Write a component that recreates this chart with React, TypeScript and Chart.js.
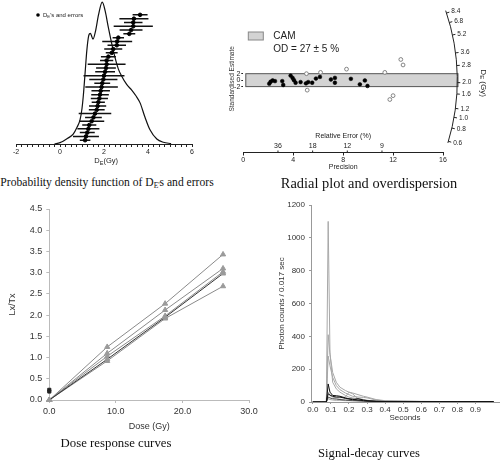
import React, { useEffect, useRef } from "react";
import { Chart, registerables } from "chart.js";
Chart.register(...registerables);

const SANS = "'Liberation Sans', Arial, sans-serif";
const SERIF = "'Liberation Serif', 'Times New Roman', serif";

// ---------------- Panel 1: probability density of DE's ----------------
const densityX = [-0.25, 0.0, 0.14, 0.35, 0.6, 0.78, 0.91, 1.0, 1.06, 1.14, 1.22, 1.3, 1.38, 1.5, 1.62, 1.75, 1.92, 2.05, 2.2, 2.42, 2.65, 2.8, 3.03, 3.26, 3.45, 3.64, 3.86, 4.09, 4.4, 4.7, 5.05];
const densityY = [0, 0.01, 0.02, 0.04, 0.07, 0.12, 0.17, 0.25, 0.34, 0.5, 0.66, 0.76, 0.78, 0.74, 0.8, 0.91, 1.0, 0.94, 0.82, 0.66, 0.53, 0.48, 0.42, 0.38, 0.34, 0.29, 0.19, 0.1, 0.035, 0.012, 0.003];
const deValues = [3.64, 3.36, 3.33, 3.33, 3.23, 3.15, 2.65, 2.6, 2.58, 2.42, 2.35, 2.2, 2.12, 2.12, 2.09, 2.05, 2.0, 1.97, 1.92, 1.89, 1.85, 1.82, 1.79, 1.74, 1.71, 1.67, 1.59, 1.52, 1.44, 1.33, 1.29, 1.24, 1.18, 1.14];
const deErrors = [0.34, 0.66, 0.42, 0.89, 0.52, 0.27, 0.26, 0.68, 0.42, 0.41, 0.27, 0.34, 0.3, 0.86, 0.45, 0.45, 0.93, 0.64, 0.36, 0.74, 0.42, 0.4, 0.39, 0.3, 0.39, 0.36, 0.74, 0.38, 0.57, 0.32, 0.5, 0.34, 0.59, 0.24];
const deAxisLabels = [-2, 0, 2, 4, 6];

// ---------------- Panel 2: radial plot ----------------
const precisionIn = [2.08, 2.19, 2.35, 2.54, 3.12, 3.2, 3.79, 3.95, 4.06, 4.19, 4.59, 5.02, 5.2, 5.52, 5.82, 6.14, 7.02, 7.34, 7.34, 8.62, 9.34, 9.74, 9.95];
const zIn = [-1.1, -0.5, -0.1, -0.3, -0.3, -1.5, 1.4, 0.7, 0, -0.8, -0.6, -1.0, -0.6, -0.8, 0.5, 1.0, 0.2, 0.7, -0.8, 0.4, -1.3, -0.1, -1.8];
const precisionOut = [5.06, 5.12, 6.19, 8.27, 11.34, 11.74, 12.0, 12.62, 12.8];
const zOut = [2.0, -3.1, 2.4, 3.4, 2.4, -6.0, -4.8, 6.4, 4.7];
const relErrorTicks = [36, 18, 12, 9];
const arcDeTicks = [0.6, 0.8, 1.0, 1.2, 1.6, 2.0, 2.8, 3.6, 5.2, 6.8, 8.4];
const camCentral = 2.1;
const odPercent = 27;
const odError = 5;

// ---------------- Panel 3: dose response ----------------
const doses = [0, 8.7, 17.4, 26.1];
const lxtxA = [0, 1.25, 2.27, 3.43];
const lxtxB = [0, 1.1, 2.12, 3.1];
const lxtxC = [0, 1.03, 1.98, 3.02];
const lxtxD = [0, 0.96, 1.95, 2.98];
const lxtxE = [0, 0.92, 1.92, 2.68];
const naturalLxTx = [0.24, 0.2];

// ---------------- Panel 4: signal decay ----------------
const decayTimes = [0, 0.05, 0.075, 0.085, 0.095, 0.11, 0.13, 0.15, 0.18, 0.2, 0.22, 0.25, 0.28, 0.3, 0.35, 0.4, 0.5, 0.6, 0.7, 0.8, 0.9, 1.0];
const decayA = [0, 0, 0, 1100, 300, 120, 80, 60, 40, 30, 25, 20, 15, 10, 6, 5, 4, 3, 3, 2, 2, 2];
const decayB = [0, 0, 2, 410, 290, 180, 120, 90, 70, 60, 55, 45, 35, 30, 15, 8, 5, 4, 3, 3, 2, 2];
const decayC = [0, 0, 2, 280, 220, 150, 100, 75, 55, 45, 35, 30, 28, 25, 12, 6, 4, 3, 3, 2, 2, 2];
const decayD = [0, 0, 0, 60, 40, 30, 25, 25, 30, 60, 50, 20, 15, 10, 6, 5, 4, 3, 3, 2, 2, 2];
const decayE = [0, 0, 0, 110, 60, 40, 38, 35, 25, 20, 18, 12, 8, 6, 4, 3, 3, 2, 2, 2, 2, 2];
const decayF = [0, 0, 0, 50, 42, 35, 30, 30, 22, 18, 14, 20, 12, 8, 4, 3, 2, 2, 2, 2, 2, 2];
const decayG = [0, 0, 0, 30, 25, 20, 18, 15, 12, 10, 10, 8, 6, 5, 3, 2, 2, 2, 2, 2, 2, 2];
const decayH = [0, 0, 0, 20, 15, 12, 10, 10, 8, 8, 6, 5, 4, 4, 3, 2, 2, 2, 2, 2, 2, 2];
const decayTicks = [0, 0.1, 0.2, 0.3, 0.4, 0.5, 0.6, 0.7, 0.8, 0.9];

type Part = [string, number, number];
function drawParts(ctx: CanvasRenderingContext2D, x: number, y: number, parts: Part[], align: "left" | "center", color = "#222") {
  let w = 0;
  parts.forEach(([t, s]) => { ctx.font = `${s}px ${SANS}`; w += ctx.measureText(t).width; });
  let cx = align === "center" ? x - w / 2 : x;
  ctx.textAlign = "left";
  ctx.textBaseline = "middle";
  ctx.fillStyle = color;
  parts.forEach(([t, s, dy]) => { ctx.font = `${s}px ${SANS}`; ctx.fillText(t, cx, y + dy); cx += ctx.measureText(t).width; });
}

function densityConfig(): any {
  const n = deValues.length;
  const segs: any[] = [];
  const pts: any[] = [];
  deValues.forEach((v, i) => {
    const r = n - i;
    segs.push({ x: v - deErrors[i], y: r }, { x: v + deErrors[i], y: r }, { x: null, y: null });
    pts.push({ x: v, y: r });
  });
  return {
    type: "line",
    data: {
      datasets: [
        { data: pts, type: "scatter", yAxisID: "yr", pointRadius: 1.8, backgroundColor: "#000", borderColor: "#000", clip: false },
        { data: segs, yAxisID: "yr", borderColor: "#111", borderWidth: 1.5, pointRadius: 0, spanGaps: false, clip: false },
        { data: densityX.map((x, i) => ({ x, y: densityY[i] })), yAxisID: "y", borderColor: "#111", borderWidth: 1.2, pointRadius: 0, cubicInterpolationMode: "monotone", clip: false },
      ],
    },
    options: {
      responsive: false, animation: false, events: [],
      layout: { padding: { left: 16, right: 58, top: 0, bottom: 0 } },
      plugins: { legend: { display: false }, tooltip: { enabled: false } },
      scales: {
        x: {
          type: "linear", min: -2, max: 6,
          ticks: { stepSize: 0.25, autoSkip: false, maxRotation: 0, padding: 1, color: "#222", font: { size: 7, family: SANS },
            callback: (v: number) => (deAxisLabels.includes(v) ? String(v) : "") },
          grid: { drawOnChartArea: false, tickLength: 3, tickColor: "#222" },
          border: { color: "#222" },
          afterFit: (s: any) => { s.height = 28; },
        },
        y: { type: "linear", min: 0, max: 0.98, display: false },
        yr: { type: "linear", min: 0, max: 36.6, display: false },
      },
    },
    plugins: [{
      id: "p1text",
      afterDraw(chart: any) {
        const ctx = chart.ctx;
        ctx.save();
        ctx.fillStyle = "#000";
        ctx.beginPath(); ctx.arc(38, 15, 1.8, 0, Math.PI * 2); ctx.fill();
        drawParts(ctx, 43, 15, [["D", 6, 0], ["E", 4.2, 1.5], ["'s and errors", 6, 0]], "left");
        drawParts(ctx, chart.scales.x.getPixelForValue(2.1), 161, [["D", 7.5, 0], ["E", 5.5, 2], ["(Gy)", 7.5, 0]], "center");
        ctx.restore();
      },
    }],
  };
}

function radialConfig(): any {
  return {
    type: "scatter",
    data: {
      datasets: [
        { data: precisionIn.map((x, i) => ({ x, y: zIn[i] })), pointRadius: 1.9, backgroundColor: "#000", borderColor: "#000", borderWidth: 0.5 },
        { data: precisionOut.map((x, i) => ({ x, y: zOut[i] })), pointRadius: 1.9, backgroundColor: "#fff", borderColor: "#777", borderWidth: 0.9 },
      ],
    },
    options: {
      responsive: false, animation: false, events: [],
      layout: { padding: { left: 0, right: 57, top: 0, bottom: 0 } },
      plugins: { legend: { display: false }, tooltip: { enabled: false } },
      scales: {
        x: {
          type: "linear", min: 0, max: 16,
          ticks: { stepSize: 4, maxRotation: 0, padding: 0, color: "#222", font: { size: 7, family: SANS } },
          grid: { drawOnChartArea: false, tickLength: 3, tickColor: "#222" },
          border: { color: "#222" },
          title: { display: true, text: "Precision", color: "#222", font: { size: 7, family: SANS }, padding: { top: 0, bottom: 4 } },
          afterFit: (s: any) => { s.height = 22.5; },
        },
        y: {
          type: "linear", min: -22.4, max: 23.2,
          afterBuildTicks: (axis: any) => { axis.ticks = [2, 0, -2].map((v) => ({ value: v })); },
          ticks: { padding: 1, color: "#222", font: { size: 7, family: SANS } },
          grid: { drawOnChartArea: false, tickLength: 2, tickColor: "#222" },
          border: { display: false },
          title: { display: true, text: "Standardised Estimate", color: "#333", font: { size: 6.5, family: SANS }, padding: { top: 3, bottom: 0 } },
          afterFit: (s: any) => { s.width = 18.3; },
        },
      },
    },
    plugins: [{
      id: "band",
      beforeDatasetsDraw(chart: any) {
        const { ctx, scales: { x: xs, y: ys } } = chart;
        const l = xs.getPixelForValue(0.2), r = xs.getPixelForValue(17.2);
        const t = ys.getPixelForValue(2), b = ys.getPixelForValue(-2);
        ctx.save();
        ctx.fillStyle = "#d3d3d3";
        ctx.fillRect(l, t, r - l, b - t);
        ctx.strokeStyle = "#555"; ctx.lineWidth = 1;
        ctx.strokeRect(l, t, r - l, b - t);
        const ca = chart.chartArea;
        ctx.fillStyle = "#d3d3d3"; ctx.fillRect(ca.left + 5, 32, 15, 8);
        ctx.strokeStyle = "#888"; ctx.strokeRect(ca.left + 5, 32, 15, 8);
        ctx.fillStyle = "#222"; ctx.font = `10px ${SANS}`; ctx.textAlign = "left"; ctx.textBaseline = "middle";
        ctx.fillText("CAM", ca.left + 30, 36);
        ctx.fillText(`OD = ${odPercent} ± ${odError} %`, ca.left + 30, 49);
        ctx.restore();
      },
      afterDraw(chart: any) {
        const { ctx, scales: { x: xs, y: ys }, chartArea: ca } = chart;
        ctx.save();
        ctx.strokeStyle = "#222"; ctx.fillStyle = "#222"; ctx.lineWidth = 1;
        const ay = ca.bottom;
        ctx.font = `7px ${SANS}`; ctx.textAlign = "center"; ctx.textBaseline = "middle";
        relErrorTicks.forEach((r) => {
          const px = xs.getPixelForValue(100 / r);
          ctx.beginPath(); ctx.moveTo(px, ay); ctx.lineTo(px, ay - 2); ctx.stroke();
          ctx.fillText(String(r), px, ay - 6.5);
        });
        ctx.fillText("Relative Error (%)", xs.getPixelForValue(8), ay - 16);
        const x0 = xs.getPixelForValue(0), y0 = ys.getPixelForValue(0);
        const R = 214;
        const ang = (v: number) => {
          const s = 0.92 * Math.log(v / camCentral);
          return Math.atan2(ys.getPixelForValue(s) - y0, xs.getPixelForValue(1) - x0);
        };
        ctx.beginPath(); ctx.arc(x0, y0, R, ang(8.4) - 0.012, ang(0.6) + 0.008); ctx.stroke();
        ctx.font = `6.5px ${SANS}`; ctx.textAlign = "left";
        arcDeTicks.forEach((v) => {
          const a = ang(v);
          ctx.beginPath();
          ctx.moveTo(x0 + R * Math.cos(a), y0 + R * Math.sin(a));
          ctx.lineTo(x0 + (R + 3) * Math.cos(a), y0 + (R + 3) * Math.sin(a));
          ctx.stroke();
          ctx.fillText(v.toFixed(1), x0 + (R + 5) * Math.cos(a), y0 + (R + 5) * Math.sin(a));
        });
        ctx.translate(chart.width - 17, y0 + 3);
        ctx.rotate(Math.PI / 2);
        drawParts(ctx, 0, 0, [["D", 8, 0], ["E", 6, 1.5], [" (Gy)", 8, 0]], "center");
        ctx.restore();
      },
    }],
  };
}

function doseConfig(): any {
  const mk = (vals: number[], line: string) => ({
    data: doses.map((x, i) => ({ x, y: vals[i] })),
    borderColor: line, borderWidth: 1, pointStyle: "triangle", pointRadius: 3,
    pointBackgroundColor: "#9a9a9a", pointBorderColor: "#9a9a9a", clip: false,
  });
  return {
    type: "line",
    data: {
      datasets: [
        { type: "scatter", data: naturalLxTx.map((y) => ({ x: 0, y })), pointStyle: "rect", pointRadius: 2.2, backgroundColor: "#222", borderColor: "#222", clip: false },
        mk(lxtxD, "#333"),
        mk(lxtxA, "#8a8a8a"),
        mk(lxtxB, "#8a8a8a"),
        mk(lxtxC, "#8a8a8a"),
        mk(lxtxE, "#8a8a8a"),
      ],
    },
    options: {
      responsive: false, animation: false, events: [],
      layout: { padding: { left: 0, right: 13, top: 14, bottom: 0 } },
      plugins: { legend: { display: false }, tooltip: { enabled: false } },
      scales: {
        x: {
          type: "linear", min: 0, max: 30,
          ticks: { stepSize: 10, maxRotation: 0, padding: 3, color: "#333", font: { size: 9, family: SANS }, callback: (v: number) => v.toFixed(1) },
          grid: { drawOnChartArea: false, tickLength: 3, tickColor: "#bbb" },
          border: { color: "#bbb" },
          title: { display: true, text: "Dose (Gy)", color: "#333", font: { size: 9, family: SANS }, padding: { top: 0, bottom: 4 } },
          afterFit: (s: any) => { s.height = 36; },
        },
        y: {
          type: "linear", min: 0, max: 4.5,
          ticks: { stepSize: 0.5, padding: 4, color: "#333", font: { size: 9, family: SANS }, callback: (v: number) => v.toFixed(1) },
          grid: { drawOnChartArea: false, tickLength: 3, tickColor: "#bbb" },
          border: { color: "#bbb" },
          title: { display: true, text: "Lx/Tx", color: "#333", font: { size: 9, family: SANS }, padding: { top: 7, bottom: 0 } },
          afterFit: (s: any) => { s.width = 49.3; },
        },
      },
    },
  };
}

function decayConfig(): any {
  const mk = (vals: number[], col: string) => ({
    data: decayTimes.map((x, i) => ({ x, y: vals[i] })),
    borderColor: col, borderWidth: 1, pointRadius: 0,
  });
  return {
    type: "line",
    data: {
      datasets: [
        mk(decayE, "#111"), mk(decayF, "#111"), mk(decayG, "#444"),
        mk(decayA, "#a8a8a8"), mk(decayB, "#a8a8a8"), mk(decayC, "#a8a8a8"), mk(decayD, "#a8a8a8"), mk(decayH, "#a8a8a8"),
      ],
    },
    options: {
      responsive: false, animation: false, events: [],
      layout: { padding: { left: 0, right: 1, top: 10, bottom: 0 } },
      plugins: { legend: { display: false }, tooltip: { enabled: false } },
      scales: {
        x: {
          type: "linear", min: -0.01, max: 1.03,
          afterBuildTicks: (axis: any) => { axis.ticks = decayTicks.map((v) => ({ value: v })); },
          ticks: { maxRotation: 0, autoSkip: false, padding: 1, color: "#333", font: { size: 8, family: SANS }, callback: (v: number) => v.toFixed(1) },
          grid: { drawOnChartArea: false, tickLength: 2, tickColor: "#999" },
          border: { color: "#999" },
          title: { display: true, text: "Seconds", color: "#333", font: { size: 8, family: SANS }, padding: { top: 0, bottom: 1 } },
          afterFit: (s: any) => { s.height = 22; },
        },
        y: {
          type: "linear", min: 0, max: 1200,
          ticks: { stepSize: 200, padding: 4, color: "#333", font: { size: 8, family: SANS }, callback: (v: number) => String(v) },
          grid: { drawOnChartArea: false, tickLength: 2, tickColor: "#999" },
          border: { color: "#999" },
          title: { display: true, text: "Photon counts / 0.017 sec", color: "#333", font: { size: 8, family: SANS }, padding: { top: 22, bottom: 0 } },
          afterFit: (s: any) => { s.width = 56; },
        },
      },
    },
  };
}

function ChartCanvas({ left, top, width, height, make }: { left: number; top: number; width: number; height: number; make: () => any }) {
  const ref = useRef<HTMLCanvasElement>(null);
  useEffect(() => {
    const chart = new Chart(ref.current as HTMLCanvasElement, make());
    return () => chart.destroy();
  }, []);
  return <canvas ref={ref} width={width} height={height} style={{ position: "absolute", left, top, width, height }} />;
}

function Caption({ cx, cy, size, children }: { cx: number; cy: number; size: number; children: React.ReactNode }) {
  return (
    <div style={{ position: "absolute", left: cx, top: cy - 8, transform: "translateX(-50%)", whiteSpace: "nowrap", fontFamily: SERIF, fontSize: size, lineHeight: "16px", color: "#111" }}>
      {children}
    </div>
  );
}

export default function App() {
  return (
    <div style={{ position: "fixed", left: 0, top: 0, width: 500, height: 460, background: "#fff", overflow: "hidden" }}>
      <ChartCanvas left={0} top={0} width={250} height={172} make={densityConfig} />
      <ChartCanvas left={225} top={0} width={275} height={175} make={radialConfig} />
      <ChartCanvas left={0} top={195} width={262} height={241} make={doseConfig} />
      <ChartCanvas left={255} top={195} width={245} height={229} make={decayConfig} />
      <Caption cx={107} cy={183} size={11.6}>Probability density function of D<sub style={{ fontSize: 7.5, verticalAlign: "-2px" }}>E'</sub>s and errors</Caption>
      <Caption cx={369} cy={183} size={14.4}>Radial plot and overdispersion</Caption>
      <Caption cx={116} cy={443} size={12.8}>Dose response curves</Caption>
      <Caption cx={369} cy={453} size={12.6}>Signal-decay curves</Caption>
    </div>
  );
}
